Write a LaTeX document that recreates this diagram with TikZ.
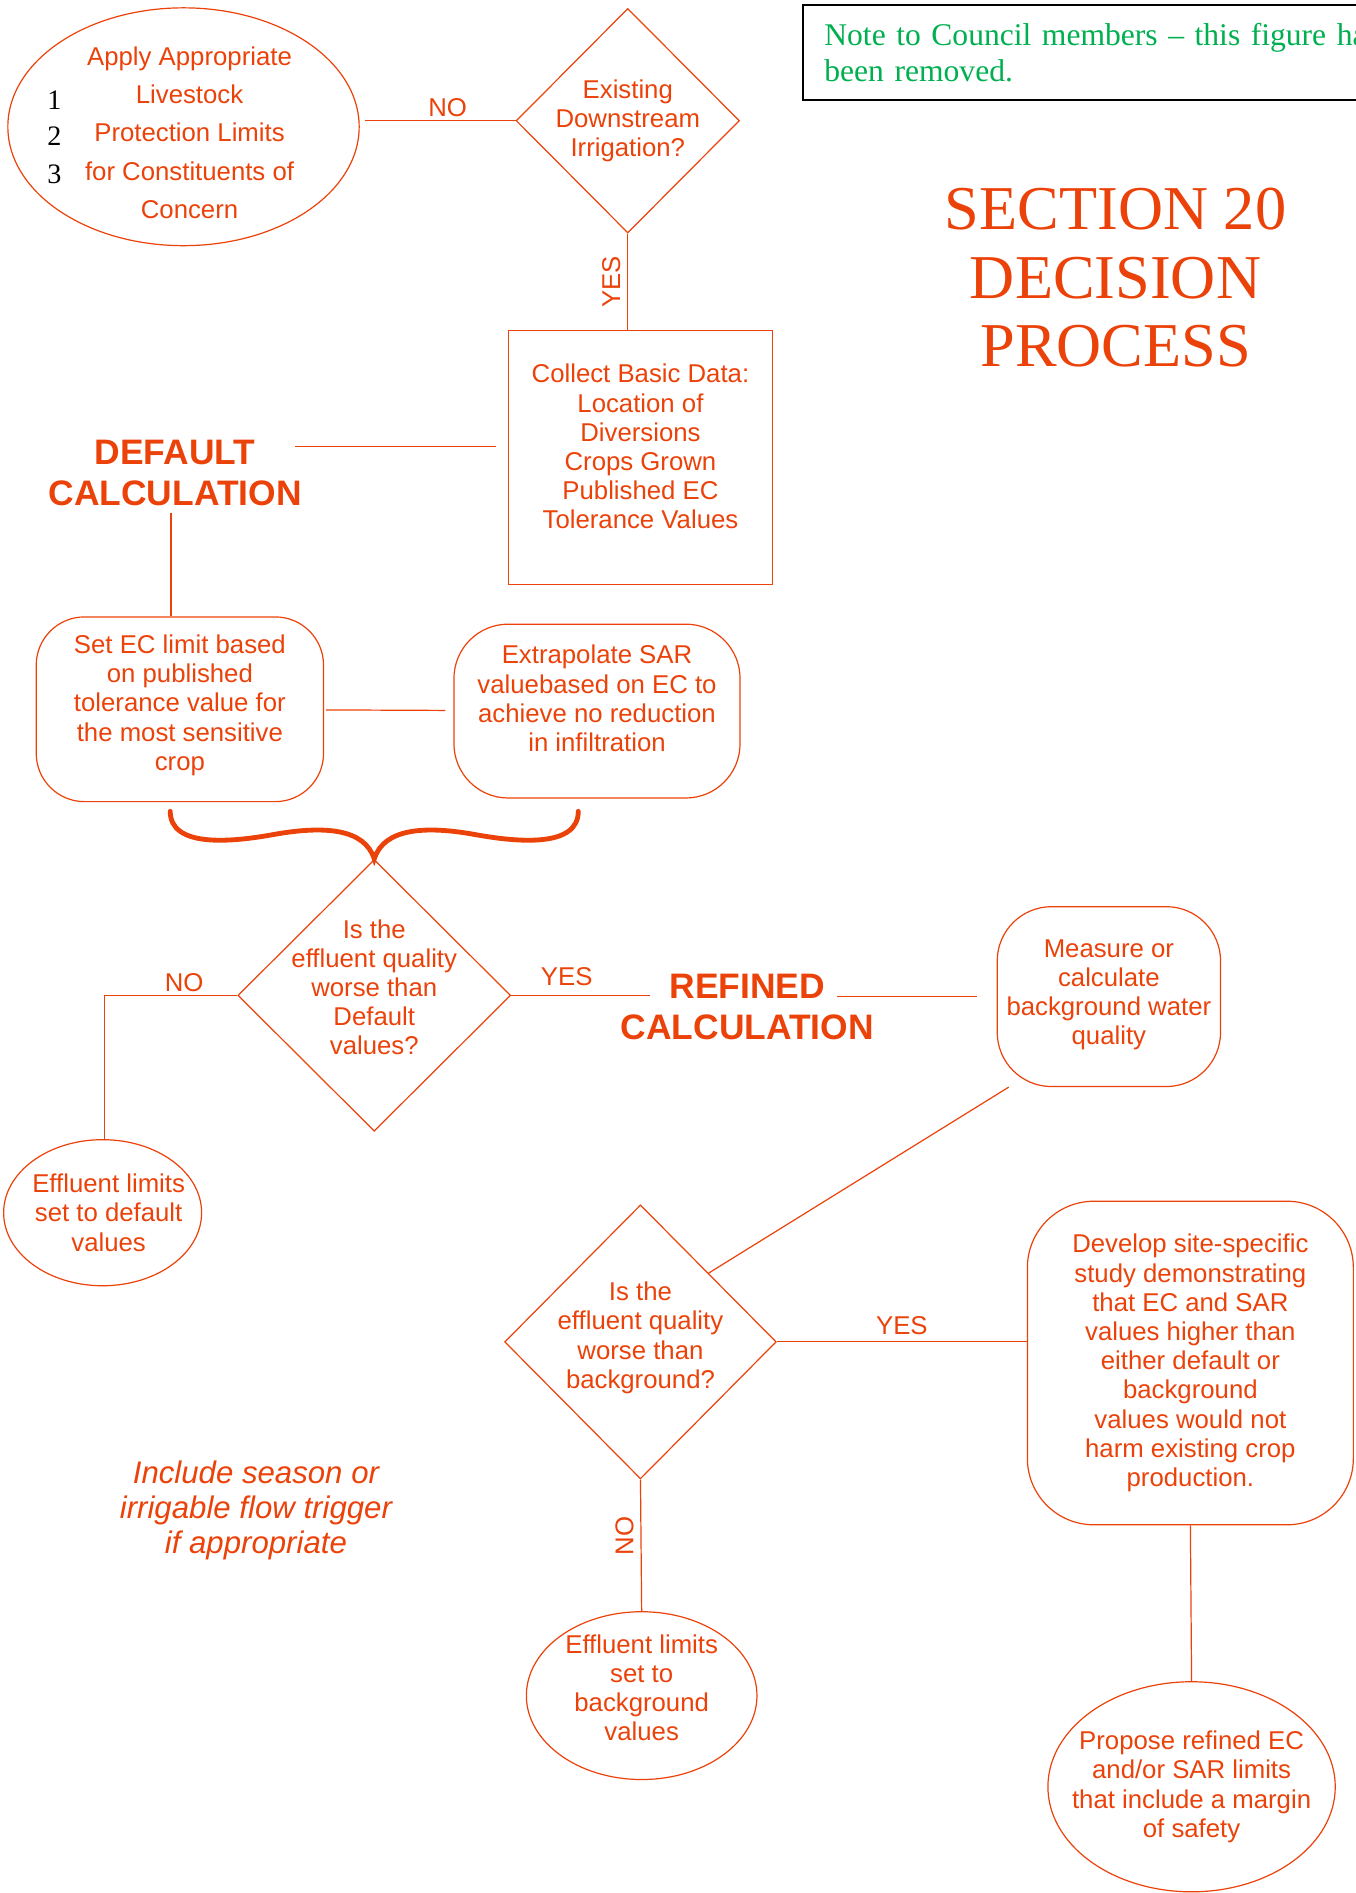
\documentclass[tikz,border=0pt]{standalone}
\usepackage{fontspec}
\setmainfont{Liberation Sans}
\newfontfamily\timesfont{Liberation Serif}
\usetikzlibrary{shapes.geometric}
\definecolor{orng}{RGB}{235,66,10}
\definecolor{notegreen}{RGB}{0,176,80}
\tikzset{
  txt/.style={text=orng, align=center, font=\fontsize{12.8}{14.5}\selectfont},
  bold/.style={text=orng, align=center, font=\bfseries\fontsize{17.6}{20.6}\selectfont},
  dia/.style={draw=orng, line width=0.6pt, shape=diamond, inner sep=0pt},
  oval/.style={draw=orng, line width=0.6pt, shape=ellipse, inner sep=0pt},
  rbox/.style={draw=orng, line width=0.6pt, rectangle, inner sep=0pt, rounded corners=#1},
  rbox/.default=0pt,
  ln/.style={draw=orng, line width=0.6pt},
  num/.style={font=\timesfont\fontsize{14}{14}\selectfont},
}
\begin{document}
\begin{tikzpicture}[x=0.6pt, y=-0.6pt]
  \useasboundingbox (0,0) rectangle (1123,1568);
  \clip (0,0) rectangle (1123,1568);

  % top row
  \node[oval, minimum width=174.6pt, minimum height=118.2pt,
    label={[txt, font=\fontsize{12.8}{18.9}\selectfont, xshift=3pt, yshift=-3pt]center:{Apply Appropriate\\Livestock\\Protection Limits\\for Constituents of\\Concern}}]
    (apply) at (152,105) {};
  \path
    (45,83) node[num] (n1){1}
    (45,113) node[num] (n2){2}
    (45,144) node[num] (n3){3};
  \node[dia, minimum width=111pt, minimum height=111.6pt,
    label={[txt]center:{Existing\\Downstream\\Irrigation?}}]
    (irrig) at (520,100) {};
  \node[draw=black, line width=1pt, anchor=north west, minimum height=47.4pt,
    text width=300pt, inner xsep=10.8pt, align=left, text=notegreen,
    font=\timesfont\fontsize{15.7}{18}\selectfont]
    (note) at (664,3) {Note to Council members – this figure has\\been removed.};
  \node[text=orng, align=center, font=\timesfont\fontsize{31}{34.2}\selectfont]
    (title) at (924,230) {SECTION 20\\DECISION\\PROCESS};

  % default calculation
  \node[rbox, minimum width=131.4pt, minimum height=126pt,
    label={[txt, yshift=5.4pt]center:{Collect Basic Data:\\Location of\\Diversions\\Crops Grown\\Published EC\\Tolerance Values}}]
    (collect) at (530.5,379) {};
  \node[bold] (dflt) at (145,392) {DEFAULT\\CALCULATION};
  \node[rbox=24pt, minimum width=142.8pt, minimum height=91.8pt,
    label={[txt, yshift=2pt]center:{Set EC limit based\\on published\\tolerance value for\\the most sensitive\\crop}}]
    (setec) at (149,587.5) {};
  \node[rbox=27pt, minimum width=142.2pt, minimum height=86.4pt,
    label={[txt, yshift=6.3pt]center:{Extrapolate SAR\\valuebased on EC to\\achieve no reduction\\in infiltration}}]
    (extrap) at (494.5,589) {};
  \node[dia, minimum width=135.6pt, minimum height=135pt,
    label={[txt, yshift=4pt]center:{Is the\\effluent quality\\worse than\\Default\\values?}}]
    (dq) at (310,824.5) {};
  \node[oval, minimum width=98.4pt, minimum height=72.6pt,
    label={[txt, xshift=3pt]center:{Effluent limits\\set to default\\values}}]
    (effdef) at (85,1004.5) {};

  % refined calculation
  \node[bold] (refd) at (619,834) {REFINED\\CALCULATION};
  \node[rbox=27pt, minimum width=111pt, minimum height=89.4pt,
    label={[txt, yshift=1pt]center:{Measure or\\calculate\\background water\\quality}}]
    (measure) at (918.5,825.5) {};
  \node[dia, minimum width=135pt, minimum height=136.2pt,
    label={[txt, yshift=2pt]center:{Is the\\effluent quality\\worse than\\background?}}]
    (dq2) at (530.5,1111.5) {};
  \node[rbox=33pt, minimum width=162pt, minimum height=160.8pt,
    label={[txt]center:{Develop site-specific\\study demonstrating\\that EC and SAR\\values higher than\\either default or\\background\\values would not\\harm existing crop\\production.}}]
    (develop) at (986,1129) {};
  \node[oval, minimum width=114.6pt, minimum height=83.4pt,
    label={[txt, yshift=4pt]center:{Effluent limits\\set to\\background\\values}}]
    (effbg) at (531.5,1404.5) {};
  \node[oval, minimum width=142.8pt, minimum height=104.4pt,
    label={[txt]center:{Propose refined EC\\and/or SAR limits\\that include a margin\\of safety}}]
    (propose) at (987,1480) {};
  \node[text=orng, align=center, font=\itshape\fontsize{15.5}{17.4}\selectfont]
    (incl) at (212,1251) {Include season or\\irrigable flow trigger\\if appropriate};

  % connectors
  \begin{scope}[ln]
    \draw ([xshift=2.4pt]apply.east |- irrig.west) -- (irrig.west) node[txt, pos=0.55, above, yshift=-1.5pt] (no1) {NO};
    \draw (irrig.south) -- (irrig.south |- collect.north) node[txt, midway, rotate=90, anchor=south] (yes1) {YES};
    \draw ([xshift=-7pt]dflt.east |- 0,370) -- ([xshift=-6pt]collect.west |- 0,370);
    \draw ([xshift=-2pt]dflt.south) -- ([xshift=-2pt]dflt.south |- setec.north);
    \draw[shorten <=1pt, shorten >=4pt] (setec) -- (extrap);
    \draw[line width=2.4pt, line cap=round]
      (141,672) .. controls (141,702) and (190,698) .. (228,691)
      .. controls (268,684) and (302,686) .. (dq.north)
      .. controls (318,686) and (352,684) .. (392,691)
      .. controls (430,698) and (479,702) .. (479,672);
    \draw (dq.west) -| ([xshift=1pt]effdef.north) node[txt, pos=0.2, above, yshift=-2pt] (no2) {NO};
    \draw (dq.east) -- ([xshift=18pt]refd.west |- dq.east) node[txt, pos=0.4, above, yshift=1pt] (yes2) {YES};
    \draw ([xshift=-22pt]refd.east |- measure.west) -- ([xshift=-9.6pt]measure.west);
    \draw ([xshift=6pt]measure.south west) -- (dq2.north east);
    \draw (dq2.east) -- (develop.west |- dq2.east) node[txt, midway, above] (yes3) {YES};
    \draw (dq2.south) -- (effbg.north) node[txt, pos=0.43, rotate=90, anchor=south] (no3) {NO};
    \draw (develop.south) -- (propose.north);
  \end{scope}
\end{tikzpicture}
\end{document}
